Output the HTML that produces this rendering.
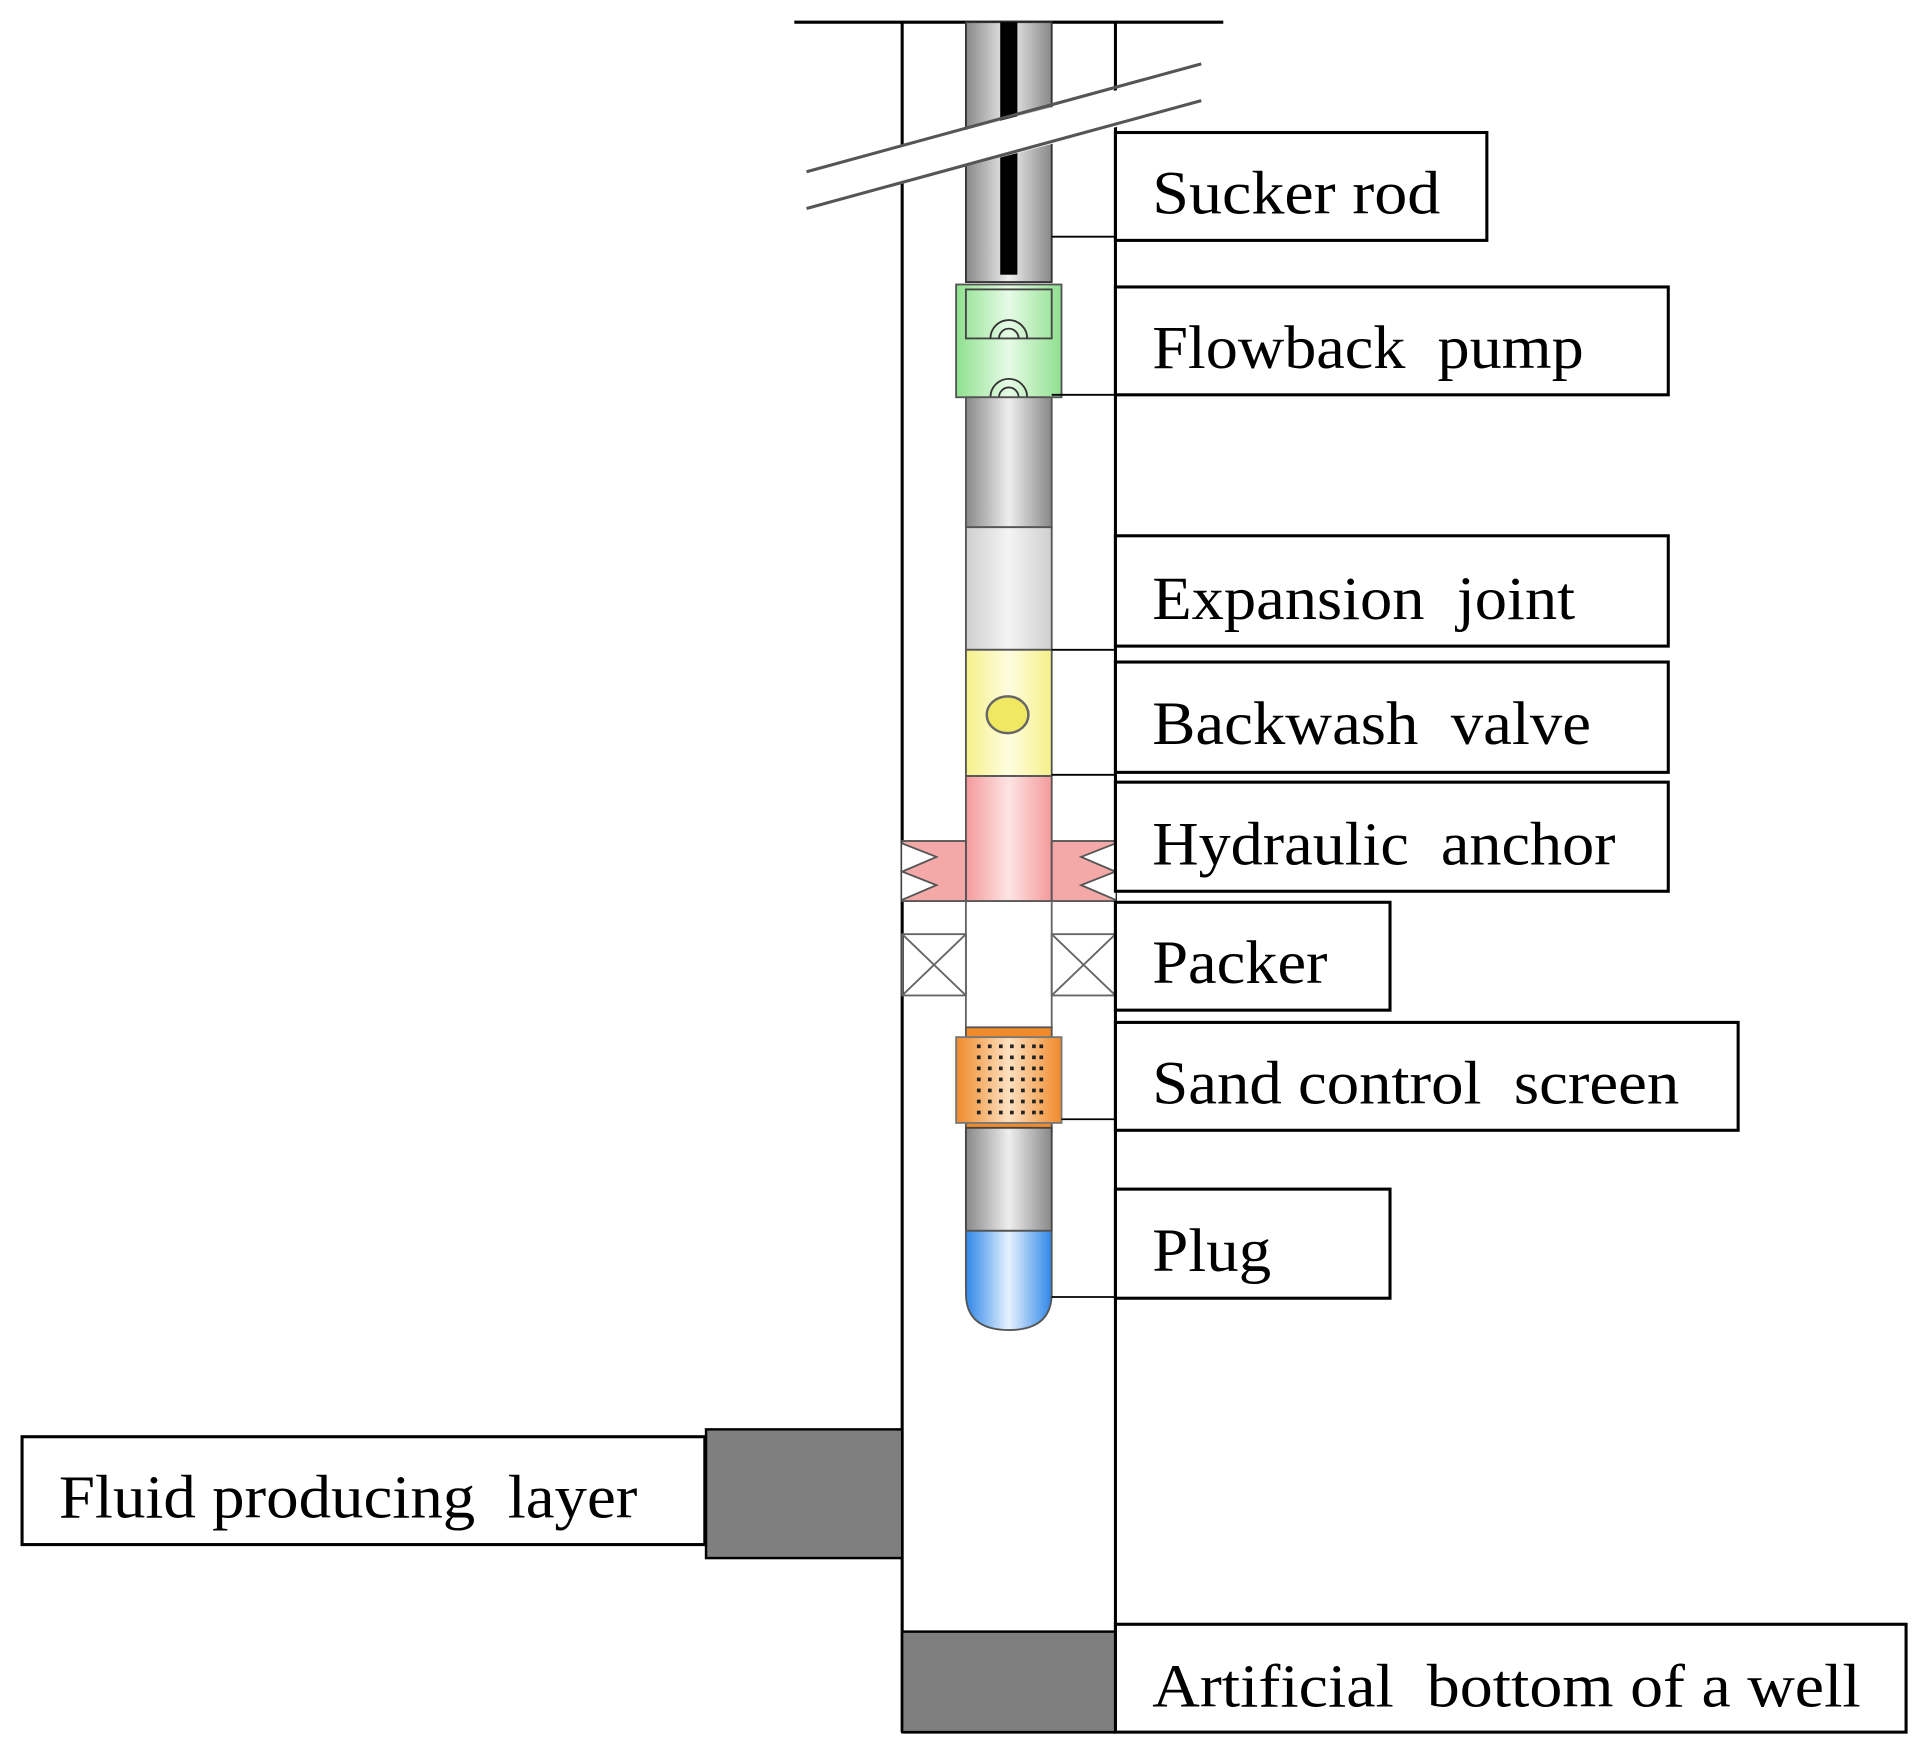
<!DOCTYPE html>
<html><head><meta charset="utf-8"><style>
html,body{margin:0;padding:0;background:#fff;}
svg{display:block}
text{font-family:"Liberation Serif",serif;font-size:50px;fill:#000;white-space:pre}
</style></head><body>
<svg width="1922" height="1758" viewBox="0 0 1568 1434" xmlns="http://www.w3.org/2000/svg">
<defs>
<linearGradient id="gr" x1="0" x2="1"><stop offset="0" stop-color="#888"/><stop offset="0.5" stop-color="#eee"/><stop offset="1" stop-color="#888"/></linearGradient>
<linearGradient id="lg" x1="0" x2="1"><stop offset="0" stop-color="#cfcfcf"/><stop offset="0.5" stop-color="#f4f4f4"/><stop offset="1" stop-color="#cfcfcf"/></linearGradient>
<linearGradient id="gn" x1="0" x2="1"><stop offset="0" stop-color="#8fe08f"/><stop offset="0.5" stop-color="#e6fbe6"/><stop offset="1" stop-color="#8fe08f"/></linearGradient>
<linearGradient id="yl" x1="0" x2="1"><stop offset="0" stop-color="#f5f08a"/><stop offset="0.5" stop-color="#fffde0"/><stop offset="1" stop-color="#f5f08a"/></linearGradient>
<linearGradient id="rd" x1="0" x2="1"><stop offset="0" stop-color="#f59a9a"/><stop offset="0.5" stop-color="#fde4e4"/><stop offset="1" stop-color="#f59a9a"/></linearGradient>
<linearGradient id="or" x1="0" x2="1"><stop offset="0" stop-color="#f08a2a"/><stop offset="0.5" stop-color="#fde0c0"/><stop offset="1" stop-color="#f08a2a"/></linearGradient>
<linearGradient id="bl" x1="0" x2="1"><stop offset="0" stop-color="#2f86e8"/><stop offset="0.5" stop-color="#e6f2ff"/><stop offset="1" stop-color="#2f86e8"/></linearGradient>
</defs>
<g stroke="#000" fill="none" stroke-width="2.5">
<line x1="648" y1="18" x2="998" y2="18"/>
<line x1="736" y1="18" x2="736" y2="1413"/>
<line x1="910" y1="18" x2="910" y2="1413"/>
<line x1="736" y1="1413" x2="910" y2="1413"/>
</g>
<rect x="788" y="18" width="70" height="212" fill="url(#gr)" stroke="#333" stroke-width="1.5"/>
<rect x="816" y="18" width="14" height="206" fill="#000"/>
<polygon points="650,142 985,54 985,84 650,172" fill="#fff"/>
<line x1="658" y1="140" x2="980" y2="52" stroke="#555" stroke-width="2.5"/>
<line x1="658" y1="170" x2="980" y2="82" stroke="#555" stroke-width="2.5"/>
<rect x="780" y="232" width="86" height="92" fill="url(#gn)" stroke="#555" stroke-width="1.5"/>
<rect x="788" y="236" width="70" height="40" fill="none" stroke="#444" stroke-width="1.5"/>
<g fill="none" stroke="#333" stroke-width="1.5">
<path d="M808,276 a15,15 0 0 1 30,0"/><path d="M815,276 a8,8 0 0 1 16,0"/>
<path d="M808,324 a15,15 0 0 1 30,0"/><path d="M815,324 a8,8 0 0 1 16,0"/>
</g>
<rect x="788" y="324" width="70" height="106" fill="url(#gr)" stroke="#555" stroke-width="1.5"/>
<rect x="788" y="430" width="70" height="100" fill="url(#lg)" stroke="#555" stroke-width="1.5"/>
<rect x="788" y="530" width="70" height="103" fill="url(#yl)" stroke="#555" stroke-width="1.5"/>
<ellipse cx="822" cy="583" rx="17" ry="15" fill="#f0e860" stroke="#666" stroke-width="2"/>
<rect x="788" y="633" width="70" height="102" fill="url(#rd)" stroke="#555" stroke-width="1.5"/>
<rect x="736" y="686" width="52" height="49" fill="#f5a8a8" stroke="#555" stroke-width="1.5"/>
<rect x="858" y="686" width="52" height="49" fill="#f5a8a8" stroke="#555" stroke-width="1.5"/>
<polyline points="736,688 764,699 736,711 764,722 736,734" fill="#fff" stroke="#555" stroke-width="1.5"/>
<polyline points="910,688 882,699 910,711 882,722 910,734" fill="#fff" stroke="#555" stroke-width="1.5"/>
<g stroke="#666" stroke-width="1.5" fill="none">
<line x1="788" y1="735" x2="788" y2="840"/><line x1="858" y1="735" x2="858" y2="840"/>
<rect x="736" y="762" width="52" height="50"/><line x1="736" y1="762" x2="788" y2="812"/><line x1="788" y1="762" x2="736" y2="812"/>
<rect x="858" y="762" width="52" height="50"/><line x1="858" y1="762" x2="910" y2="812"/><line x1="910" y1="762" x2="858" y2="812"/>
</g>
<rect x="788" y="838" width="70" height="86" fill="#f08a2a" stroke="#555" stroke-width="1.5"/>
<rect x="780" y="846" width="86" height="70" fill="url(#or)" stroke="#777" stroke-width="1.5"/>
<rect x="788" y="920" width="70" height="84" fill="url(#gr)" stroke="#444" stroke-width="1.5"/>
<path d="M788,1004 L858,1004 L858,1055 Q858,1085 823,1085 Q788,1085 788,1055 Z" fill="url(#bl)" stroke="#555" stroke-width="1.5"/>
<g stroke="#000" stroke-width="1.5">
<line x1="858" y1="193" x2="910" y2="193"/>
<line x1="858" y1="322" x2="910" y2="322"/>
<line x1="858" y1="530" x2="910" y2="530"/>
<line x1="858" y1="632" x2="910" y2="632"/>
<line x1="866" y1="913" x2="910" y2="913"/>
<line x1="858" y1="1058" x2="910" y2="1058"/>
</g>
<rect x="576" y="1166" width="160" height="105" fill="#7f7f7f" stroke="#000" stroke-width="2"/>
<rect x="736" y="1331" width="174" height="82" fill="#7f7f7f" stroke="#000" stroke-width="2"/>
<g fill="#fff" stroke="#000" stroke-width="2.5">
<rect x="910" y="108" width="303" height="88"/>
<rect x="910" y="234" width="451" height="88"/>
<rect x="910" y="437" width="451" height="90"/>
<rect x="910" y="540" width="451" height="90"/>
<rect x="910" y="638" width="451" height="89"/>
<rect x="910" y="736" width="224" height="88"/>
<rect x="910" y="834" width="508" height="88"/>
<rect x="910" y="970" width="224" height="89"/>
<rect x="18" y="1172" width="557" height="88"/>
<rect x="910" y="1325" width="645" height="88"/>
</g>
<text x="940" y="174" textLength="235" lengthAdjust="spacingAndGlyphs">Sucker rod</text>
<text x="940" y="300" textLength="352" lengthAdjust="spacingAndGlyphs">Flowback  pump</text>
<text x="940" y="505" textLength="345" lengthAdjust="spacingAndGlyphs">Expansion  joint</text>
<text x="940" y="607" textLength="358" lengthAdjust="spacingAndGlyphs">Backwash  valve</text>
<text x="940" y="705" textLength="378" lengthAdjust="spacingAndGlyphs">Hydraulic  anchor</text>
<text x="940" y="802" textLength="143" lengthAdjust="spacingAndGlyphs">Packer</text>
<text x="940" y="900" textLength="430" lengthAdjust="spacingAndGlyphs">Sand control  screen</text>
<text x="940" y="1037" textLength="97" lengthAdjust="spacingAndGlyphs">Plug</text>
<text x="48" y="1238" textLength="472" lengthAdjust="spacingAndGlyphs">Fluid producing  layer</text>
<text x="940" y="1392" textLength="578" lengthAdjust="spacingAndGlyphs">Artificial  bottom of a well</text>
<g fill="#222">
<rect x="797" y="852" width="3" height="3"/><rect x="806" y="852" width="3" height="3"/><rect x="815" y="852" width="3" height="3"/><rect x="824" y="852" width="3" height="3"/><rect x="833" y="852" width="3" height="3"/><rect x="842" y="852" width="3" height="3"/><rect x="848" y="852" width="3" height="3"/>
<rect x="797" y="861" width="3" height="3"/><rect x="806" y="861" width="3" height="3"/><rect x="815" y="861" width="3" height="3"/><rect x="824" y="861" width="3" height="3"/><rect x="833" y="861" width="3" height="3"/><rect x="842" y="861" width="3" height="3"/><rect x="848" y="861" width="3" height="3"/>
<rect x="797" y="870" width="3" height="3"/><rect x="806" y="870" width="3" height="3"/><rect x="815" y="870" width="3" height="3"/><rect x="824" y="870" width="3" height="3"/><rect x="833" y="870" width="3" height="3"/><rect x="842" y="870" width="3" height="3"/><rect x="848" y="870" width="3" height="3"/>
<rect x="797" y="879" width="3" height="3"/><rect x="806" y="879" width="3" height="3"/><rect x="815" y="879" width="3" height="3"/><rect x="824" y="879" width="3" height="3"/><rect x="833" y="879" width="3" height="3"/><rect x="842" y="879" width="3" height="3"/><rect x="848" y="879" width="3" height="3"/>
<rect x="797" y="888" width="3" height="3"/><rect x="806" y="888" width="3" height="3"/><rect x="815" y="888" width="3" height="3"/><rect x="824" y="888" width="3" height="3"/><rect x="833" y="888" width="3" height="3"/><rect x="842" y="888" width="3" height="3"/><rect x="848" y="888" width="3" height="3"/>
<rect x="797" y="897" width="3" height="3"/><rect x="806" y="897" width="3" height="3"/><rect x="815" y="897" width="3" height="3"/><rect x="824" y="897" width="3" height="3"/><rect x="833" y="897" width="3" height="3"/><rect x="842" y="897" width="3" height="3"/><rect x="848" y="897" width="3" height="3"/>
<rect x="797" y="906" width="3" height="3"/><rect x="806" y="906" width="3" height="3"/><rect x="815" y="906" width="3" height="3"/><rect x="824" y="906" width="3" height="3"/><rect x="833" y="906" width="3" height="3"/><rect x="842" y="906" width="3" height="3"/><rect x="848" y="906" width="3" height="3"/>
</g>
</svg>
</body></html>
